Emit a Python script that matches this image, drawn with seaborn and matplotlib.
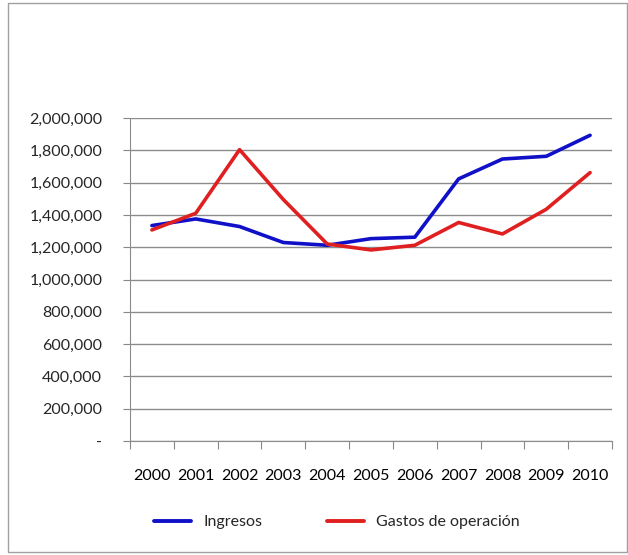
import matplotlib
matplotlib.use("Agg")
import matplotlib.pyplot as plt
import matplotlib.ticker as mticker
from matplotlib.patches import Rectangle
from matplotlib.lines import Line2D
import seaborn as sns
import pandas as pd

years = ["2000", "2001", "2002", "2003", "2004", "2005", "2006", "2007", "2008", "2009", "2010"]
ingresos = [1334000, 1375000, 1328000, 1229000, 1212000, 1253000, 1262000, 1623000, 1746000, 1763000, 1893000]
gastos = [1307000, 1410000, 1804000, 1495000, 1220000, 1183000, 1212000, 1353000, 1282000, 1435000, 1662000]
series_names = ["Ingresos", "Gastos de operación"]
colors = ["#1010C8", "#E02020"]

sns.set_theme(style="white")
plt.rcParams['font.family'] = ['Lato', 'DejaVu Sans']

df = pd.DataFrame({
    "idx": list(range(len(years))) * 2,
    "value": ingresos + gastos,
    "serie": [series_names[0]] * len(years) + [series_names[1]] * len(years),
})

fig = plt.figure(figsize=(6.28, 5.55), dpi=100)
fig.patches.append(Rectangle((8 / 628, 3 / 555), 619 / 628, 549 / 555, transform=fig.transFigure,
                             fill=False, edgecolor="#A0A0A0", linewidth=1))
ax = fig.add_axes([130 / 628, 1 - 441 / 555, 482 / 628, 323 / 555])

sns.lineplot(data=df, x="idx", y="value", hue="serie", palette=colors, linewidth=2.6,
             ax=ax, legend=False)

ax.set_xlim(-0.5, len(years) - 0.5)
ax.set_ylim(0, 2000000)
ax.set_yticks(range(0, 2000001, 200000))

def yfmt(v, pos):
    return "-" if v == 0 else f"{int(v):,}"

ax.yaxis.set_major_formatter(mticker.FuncFormatter(yfmt))
ax.set_xticks(range(len(years)))
ax.set_xticklabels(years)
ax.set_xticks([i - 0.5 for i in range(len(years) + 1)], minor=True)
ax.tick_params(axis="x", which="major", length=0, pad=20, labelsize=11.5, colors="#000000")
ax.tick_params(axis="x", which="minor", length=6, width=0.8, color="#888888", direction="out", bottom=True)
ax.tick_params(axis="y", which="major", length=5, width=0.8, color="#888888", direction="out", left=True,
               labelsize=11.5, pad=15)
ax.set_xlabel("")
ax.set_ylabel("")
ax.grid(axis="y", color="#8C8C8C", linewidth=1)
ax.grid(axis="x", visible=False)
ax.set_axisbelow(True)
for s in ["top", "right"]:
    ax.spines[s].set_visible(False)
for s in ["left", "bottom"]:
    ax.spines[s].set_color("#8C8C8C")
    ax.spines[s].set_linewidth(0.8)

handles = [Line2D([0], [0], color=c, linewidth=2.8) for c in colors]
fig.legend(handles, series_names, loc="center left", bbox_to_anchor=(140 / 628, 1 - 522 / 555),
           ncol=2, frameon=False, handlelength=2.3, columnspacing=4.0, fontsize=11.5, handletextpad=0.8)

fig.savefig("out.png", dpi=100)
